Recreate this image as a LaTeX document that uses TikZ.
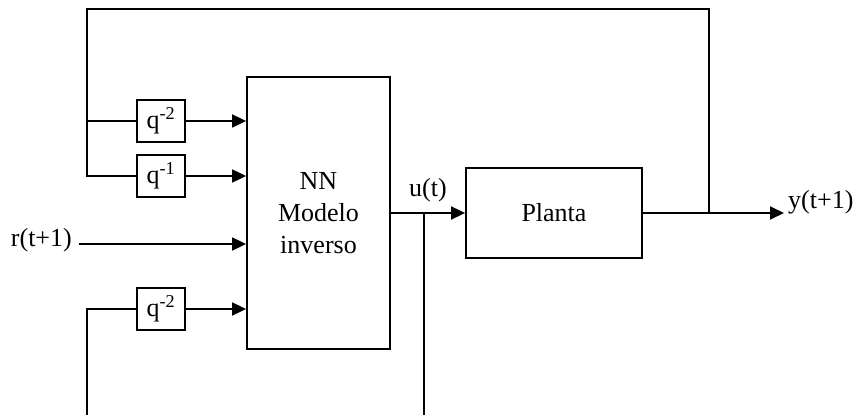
\documentclass[tikz,border=0pt]{standalone}
\usepackage{fontspec}
\setmainfont{Liberation Serif}
\usetikzlibrary{arrows.meta}
\begin{document}
\begin{tikzpicture}[x=1pt,y=-1pt,
  every node/.style={font=\fontsize{26}{32}\selectfont, inner sep=0pt},
  blk/.style={draw, line width=1.8pt, fill=white},
  dly/.style={blk, minimum width=48pt, minimum height=42pt},
  wire/.style={line width=1.8pt},
  arr/.style={wire, -{Triangle[length=14pt,width=13pt]}}]
\useasboundingbox (0,0) rectangle (854,415);
% blocks
\node[blk, minimum width=143pt, minimum height=272pt, align=center] (nn) at (318.5,213) {NN\\Modelo\\inverso};
\node[blk, minimum width=176pt, minimum height=90pt] (pl) at (554,213) {Planta};
\node[dly] (d1) at (161,121) {q\textsuperscript{-2}};
\node[dly] (d2) at (161,176) {q\textsuperscript{-1}};
\node[dly] (d3) at (161,309) {q\textsuperscript{-2}};
% labels
\node[anchor=east] (rl) at (72,240) {r(t+1)};
\node (ul) at (428,190) {u(t)};
\node[anchor=west] (yl) at (788,202) {y(t+1)};
% coordinates
\coordinate (rin) at (79,244);
\coordinate (yout) at (784,213);
\coordinate (jy) at (709,213);
\coordinate (ju) at (424,213);
\coordinate (top) at (709,9);
\coordinate (lt) at (87,9);
\coordinate (b1) at (87,415);
\coordinate (b2) at (424,415);
% connectors
\draw[arr] (d1.east) -- (d1.east -| nn.west);
\draw[arr] (d2.east) -- (d2.east -| nn.west);
\draw[arr] (d3.east) -- (d3.east -| nn.west);
\draw[arr] (rin) -- (rin -| nn.west);
\draw[arr] (nn.east |- pl.west) -- (pl.west);
\draw[arr] (pl.east) -- (yout);
\draw[wire] (jy) -- (top) -- (lt) |- (d2.west);
\draw[wire] (lt |- d1.west) -- (d1.west);
\draw[wire] (b1) |- (d3.west);
\draw[wire] (ju) -- (b2);
\end{tikzpicture}
\end{document}
